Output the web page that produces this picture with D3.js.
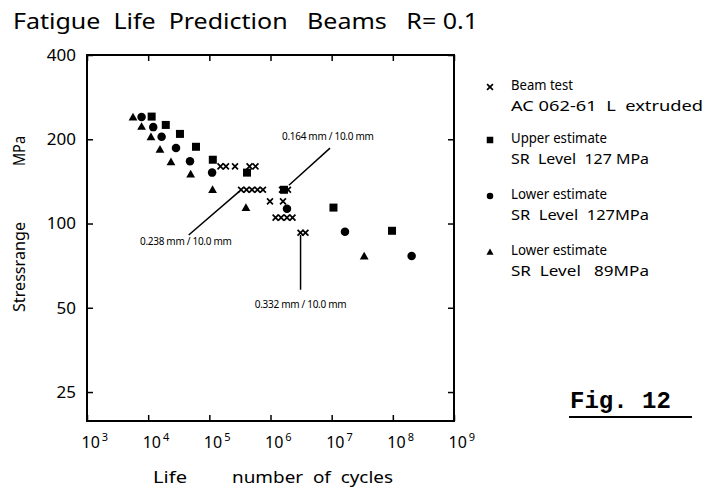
<!DOCTYPE html>
<html>
<head>
<meta charset="utf-8">
<script src="https://cdn.jsdelivr.net/npm/d3@7"></script>
<style>
  html, body { margin: 0; padding: 0; background: #fff; }
  svg { display: block; }
  text { font-family: "Noto Sans", "DejaVu Sans", sans-serif; fill: #000; white-space: pre; }
</style>
</head>
<body>
<svg id="chart" width="705" height="487"></svg>
<script>
// ---------------- data (cycles N, stress range MPa) ----------------
const beamTestN = [1.52e5, 1.87e5, 2.63e5, 4.54e5, 5.69e5,
                   3.3e5, 4.05e5, 4.98e5, 6.12e5, 7.53e5, 1.54e6, 1.93e6,
                   9.8e5, 1.6e6,
                   1.21e6, 1.49e6, 1.86e6, 2.29e6,
                   3.09e6, 3.73e6];
const beamTestS = [160, 160, 160, 160, 160,
                   132, 132, 132, 132, 132, 132, 132,
                   120, 120,
                   105, 105, 105, 105,
                   92.7, 92.7];

const upperN = [1.14e4, 1.94e4, 3.31e4, 6.05e4, 1.14e5, 4.13e5, 1.66e6, 1.07e7, 9.7e7];
const upperS = [241, 225, 209, 188, 169, 152, 132, 114, 94.2];

const lower127N = [7.8e3, 1.21e4, 1.66e4, 2.85e4, 4.83e4, 1.11e5, 1.86e6, 1.65e7, 2.03e8];
const lower127S = [240, 221, 204, 186, 167, 152, 113, 93.4, 76.5];

const lower89N = [5.65e3, 7.8e3, 1.11e4, 1.56e4, 2.36e4, 4.95e4, 1.13e5, 3.97e5, 3.4e7];
const lower89S = [240, 222, 204, 184, 166, 150, 132, 114, 76.5];

const xTicks = [1e3, 1e4, 1e5, 1e6, 1e7, 1e8, 1e9];
const yTicks = [25, 50, 100, 200, 400];

const legendLines1 = ["Beam test", "Upper estimate", "Lower estimate", "Lower estimate"];
const legendLines2 = ["AC 062-61  L  extruded", "SR  Level  127 MPa", "SR  Level  127MPa", "SR  Level   89MPa"];
const legendSymbols = ["cross", "square", "circle", "triangle"];

const annotationTexts = ["0.164 mm / 10.0 mm", "0.238 mm / 10.0 mm", "0.332 mm / 10.0 mm"];
// annotation leader lines in data units: [N1, S1, N2, S2]
const annotationLines = [[2.0e6, 137, 9.4e6, 186], [3.06e5, 130, 4.6e4, 91], [3.1e6, 91, 3.1e6, 58]];

// ---------------- drawing ----------------
const svg = d3.select("#chart");
const x = d3.scaleLog().domain([1e3, 1e9]).range([87, 454]);
const y = d3.scaleLog().domain([19.7, 400]).range([421, 55]);

function fitText(sel, len) {
  return sel.attr("textLength", len).attr("lengthAdjust", "spacingAndGlyphs");
}

// title
fitText(svg.append("text").attr("x", 13).attr("y", 29)
  .style("font-size", "22px")
  .text("Fatigue  Life  Prediction   Beams   R= 0.1"), 465);

// frame
svg.append("rect").attr("x", 87).attr("y", 55).attr("width", 367).attr("height", 366)
  .attr("fill", "none").attr("stroke", "#000").attr("stroke-width", 2);

// axes (inward ticks)
const gB = svg.append("g").attr("transform", "translate(0,421)")
  .call(d3.axisBottom(x).tickValues(xTicks).tickSizeInner(-6).tickSizeOuter(0).tickFormat(""));
const gT = svg.append("g").attr("transform", "translate(0,55)")
  .call(d3.axisTop(x).tickValues(xTicks).tickSizeInner(-6).tickSizeOuter(0).tickFormat(""));
const gL = svg.append("g").attr("transform", "translate(87,0)")
  .call(d3.axisLeft(y).tickValues(yTicks).tickSizeInner(-6).tickSizeOuter(0).tickPadding(11).tickFormat(d3.format("d")));
const gR = svg.append("g").attr("transform", "translate(454,0)")
  .call(d3.axisRight(y).tickValues(yTicks).tickSizeInner(-6).tickSizeOuter(0).tickFormat(""));
[gB, gT, gL, gR].forEach(g => {
  g.select(".domain").remove();
  g.selectAll(".tick line").attr("stroke", "#000").attr("stroke-width", 1.5);
});
gL.selectAll(".tick text").style("font-size", "17px").style("font-family", "'Noto Sans', sans-serif").attr("fill", "#000");

// x tick labels: 10 with superscript exponent
gB.selectAll(".tick").each(function(d) {
  const t = d3.select(this).append("text").attr("x", -6).attr("y", 27).attr("fill", "#000")
    .attr("text-anchor", "start").style("font-size", "16px");
  t.append("tspan").text("10");
  t.append("tspan").attr("dy", -7).attr("dx", 2).style("font-size", "11px").text(Math.round(Math.log10(d)));
});

// axis titles
fitText(svg.append("text").attr("x", 153).attr("y", 483).style("font-size", "16px").text("Life"), 34);
fitText(svg.append("text").attr("x", 232).attr("y", 483).style("font-size", "16px").text("number  of  cycles"), 161);
fitText(svg.append("text").attr("transform", "translate(25,312) rotate(-90)")
  .style("font-size", "16px").text("Stressrange"), 90);
fitText(svg.append("text").attr("transform", "translate(25,166) rotate(-90)")
  .style("font-size", "16px").text("MPa"), 30);

// symbol helpers
function drawSymbol(g, type, cx, cy, s) {
  if (type === "cross") {
    const h = s * 0.42;
    g.append("path").attr("d", `M${cx - h},${cy - h}L${cx + h},${cy + h}M${cx - h},${cy + h}L${cx + h},${cy - h}`)
      .attr("stroke", "#000").attr("stroke-width", 1.7).attr("fill", "none");
  } else if (type === "square") {
    g.append("rect").attr("x", cx - s / 2).attr("y", cy - s / 2).attr("width", s).attr("height", s).attr("fill", "#000");
  } else if (type === "circle") {
    g.append("circle").attr("cx", cx).attr("cy", cy).attr("r", s / 2).attr("fill", "#000");
  } else {
    const h = s * 0.55;
    g.append("path").attr("d", `M${cx},${cy - h}L${cx + h},${cy + h * 0.75}L${cx - h},${cy + h * 0.75}Z`).attr("fill", "#000");
  }
}

const marks = svg.append("g");
upperN.forEach((n, i) => drawSymbol(marks, "square", x(n), y(upperS[i]), 8));
lower127N.forEach((n, i) => drawSymbol(marks, "circle", x(n), y(lower127S[i]), 8.5));
lower89N.forEach((n, i) => drawSymbol(marks, "triangle", x(n), y(lower89S[i]), 8));
beamTestN.forEach((n, i) => drawSymbol(marks, "cross", x(n), y(beamTestS[i]), 7));

// annotations
const ann = svg.append("g");
annotationLines.forEach(l => {
  ann.append("line").attr("x1", x(l[0])).attr("y1", y(l[1])).attr("x2", x(l[2])).attr("y2", y(l[3]))
    .attr("stroke", "#000").attr("stroke-width", 1.5);
});
const annPos = [[282, 140, "start"], [140, 245, "start"], [x(annotationLines[2][0]), 308, "middle"]];
annotationTexts.forEach((t, i) => {
  ann.append("text").attr("x", annPos[i][0]).attr("y", annPos[i][1]).attr("text-anchor", annPos[i][2])
    .style("font-size", "10px").style("letter-spacing", "-0.3px").text(t);
});

// legend
const leg = svg.append("g");
const legY = [87, 140, 196, 252];
const legLen1 = [62, 96, 96, 96];
const legLen2 = [192, 138, 138, 138];
legendSymbols.forEach((s, i) => {
  drawSymbol(leg, s, 490, legY[i], s === "cross" ? 7 : 6.5);
  fitText(leg.append("text").attr("x", 511).attr("y", legY[i] + 3).style("font-size", "15px").text(legendLines1[i]), legLen1[i]);
  fitText(leg.append("text").attr("x", 511).attr("y", legY[i] + 24).style("font-size", "15px").text(legendLines2[i]), legLen2[i]);
});

// figure label
svg.append("text").attr("x", 570).attr("y", 408)
  .style("font-family", "'Liberation Mono', 'DejaVu Sans Mono', monospace")
  .style("font-weight", "bold").style("font-size", "24px").text("Fig. 12");
svg.append("line").attr("x1", 569).attr("x2", 692).attr("y1", 417).attr("y2", 417)
  .attr("stroke", "#000").attr("stroke-width", 2);
</script>
</body>
</html>
